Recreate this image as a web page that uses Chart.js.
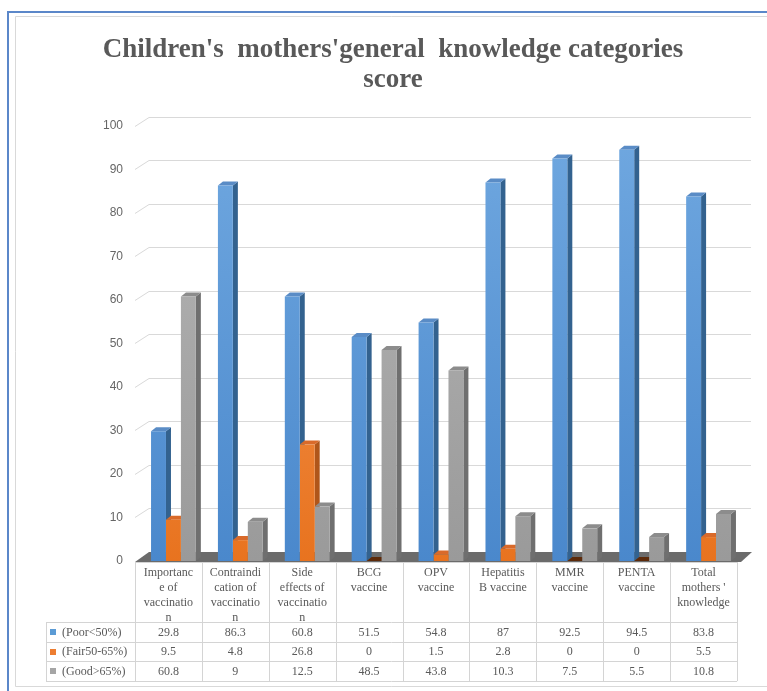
<!DOCTYPE html>
<html>
<head>
<meta charset="utf-8">
<script src="https://cdn.jsdelivr.net/npm/chart.js@4.4.0/dist/chart.umd.min.js"></script>
<style>
  html, body { margin: 0; padding: 0; background: #fff; }
  canvas { display: block; }
</style>
</head>
<body>
<canvas id="knowledge" width="767" height="691"></canvas>
<script>
// ********************* data ***********************
const categories = [
    ['Importanc', 'e of', 'vaccinatio', 'n'],
    ['Contraindi', 'cation of', 'vaccinatio', 'n'],
    ['Side', 'effects of', 'vaccinatio', 'n'],
    ['BCG', 'vaccine'],
    ['OPV', 'vaccine'],
    ['Hepatitis', 'B vaccine'],
    ['MMR', 'vaccine'],
    ['PENTA', 'vaccine'],
    ['Total', 'mothers \'', 'knowledge'],
];

const seriesNames = ['(Poor<50%)', '(Fair50-65%)', '(Good>65%)'];

const poor = [29.8, 86.3, 60.8, 51.5, 54.8, 87, 92.5, 94.5, 83.8];
const fair = [9.5, 4.8, 26.8, 0, 1.5, 2.8, 0, 0, 5.5];
const good = [60.8, 9, 12.5, 48.5, 43.8, 10.3, 7.5, 5.5, 10.8];

const yMin = 0, yMax = 100, yStep = 10;

// ********************* look ***********************
const palette = [
    { light: '#70a8e0', dark: '#4a88cc', side: '#33628f', top: '#5a8cc6', flat: '#2c4f73', key: '#5b9bd5' },
    { light: '#f59c5c', dark: '#e8731f', side: '#b0561a', top: '#d96a2a', flat: '#5c2a0a', key: '#ed7d31' },
    { light: '#b6b6b6', dark: '#9a9a9a', side: '#6f6f6f', top: '#8c8c8c', flat: '#555555', key: '#a5a5a5' },
];

const SHIFT = 5;        // bars sit a little right of their table column
const DX = 5, DY = 4;   // bar depth
const WX = 14, WY = 9;  // back wall depth
const serif = "'Liberation Serif', 'Times New Roman', serif";

function frontFill(ctx, i) {
    const area = ctx.chart.chartArea;
    if (!area) return palette[i].dark;
    const g = ctx.chart.ctx.createLinearGradient(0, area.top, 0, area.bottom);
    g.addColorStop(0, palette[i].light);
    g.addColorStop(1, palette[i].dark);
    return g;
}

// ********************* plugins ***********************
const frame = {
    id: 'frame',
    beforeDraw(chart) {
        const c = chart.ctx;
        c.save();
        c.fillStyle = '#fff';
        c.fillRect(0, 0, chart.width, chart.height);
        c.strokeStyle = '#5b87c9';
        c.lineWidth = 2;
        c.beginPath(); c.moveTo(8, 691); c.lineTo(8, 12); c.lineTo(767, 12); c.stroke();
        c.strokeStyle = '#d9d9d9';
        c.lineWidth = 1;
        c.beginPath(); c.moveTo(767, 16.5); c.lineTo(15.5, 16.5); c.lineTo(15.5, 686.5); c.lineTo(767, 686.5); c.stroke();
        c.restore();
    }
};

const wall = {
    id: 'wall',
    beforeDatasetsDraw(chart) {
        const c = chart.ctx, ys = chart.scales.y, xs = chart.scales.x;
        const left = xs.left - SHIFT, right = xs.right - SHIFT;
        c.save();
        c.strokeStyle = '#d9d9d9';
        c.lineWidth = 1;
        ys.ticks.forEach(t => {
            if (t.value === 0) return;
            const y = Math.round(ys.getPixelForValue(t.value)) + 0.5;
            c.beginPath();
            c.moveTo(left, y);
            c.lineTo(left + WX, y - WY);
            c.lineTo(right + WX, y - WY);
            c.stroke();
        });
        const y0 = ys.getPixelForValue(0);
        c.fillStyle = '#6b6b6b';
        c.beginPath();
        c.moveTo(left, y0 + 1);
        c.lineTo(right + 4, y0 + 1);
        c.lineTo(right + WX + 1, y0 - WY);
        c.lineTo(left + WX, y0 - WY);
        c.closePath();
        c.fill();
        c.restore();
    }
};

// side and top faces first, the library draws the fronts over them
const depth = {
    id: 'depth',
    beforeDatasetsDraw(chart) {
        const c = chart.ctx;
        c.save();
        chart.data.datasets.forEach((ds, i) => {
            const col = palette[i];
            chart.getDatasetMeta(i).data.forEach(bar => {
                const { x, y, base, width } = bar.getProps(['x', 'y', 'base', 'width'], true);
                const l = x - width / 2, r = x + width / 2;
                const tall = base - y > 0.5;
                if (tall) {
                    c.fillStyle = col.side;
                    c.beginPath();
                    c.moveTo(r, y); c.lineTo(r + DX, y - DY); c.lineTo(r + DX, base - DY); c.lineTo(r, base);
                    c.closePath(); c.fill();
                }
                c.fillStyle = tall ? col.top : col.flat;
                c.beginPath();
                c.moveTo(l, y); c.lineTo(l + DX, y - DY); c.lineTo(r + DX, y - DY); c.lineTo(r, y);
                c.closePath(); c.fill();
            });
        });
        c.restore();
    }
};

const table = {
    id: 'table',
    afterDraw(chart) {
        const c = chart.ctx, xs = chart.scales.x, ys = chart.scales.y;
        const n = categories.length;
        const w = (xs.right - xs.left) / n;
        const x0 = xs.left - SHIFT, x1 = xs.right - SHIFT;
        const top = Math.round(ys.getPixelForValue(0)) + 1;
        const headH = 60, rowH = 19.7, keyLeft = 46;
        const rows = [poor, fair, good];
        const bottom = top + headH + rowH * rows.length;
        const px = v => Math.round(v) + 0.5;

        c.save();
        c.strokeStyle = '#d4d4d4';
        c.lineWidth = 1;
        c.beginPath();
        c.moveTo(x0, px(top)); c.lineTo(x1, px(top));
        for (let r = 0; r <= rows.length; r++) {
            const y = px(top + headH + r * rowH);
            c.moveTo(keyLeft, y); c.lineTo(x1, y);
        }
        c.moveTo(px(keyLeft), top + headH); c.lineTo(px(keyLeft), bottom);
        for (let k = 0; k <= n; k++) {
            const x = px(x0 + k * w);
            c.moveTo(x, top); c.lineTo(x, bottom);
        }
        c.stroke();

        c.fillStyle = '#595959';
        c.font = '12px ' + serif;
        c.textAlign = 'center';
        c.textBaseline = 'middle';
        categories.forEach((lines, k) => {
            const cx = x0 + (k + 0.5) * w;
            lines.forEach((t, j) => c.fillText(t, cx, top + 11 + j * 15));
        });

        rows.forEach((vals, r) => {
            const cy = top + headH + (r + 0.5) * rowH;
            vals.forEach((v, k) => {
                c.fillStyle = '#595959';
                c.textAlign = 'center';
                c.fillText(String(v), x0 + (k + 0.5) * w, cy + 0.5);
            });
            c.fillStyle = palette[r].key;
            c.fillRect(50, Math.round(cy) - 3, 6, 6);
            c.fillStyle = '#595959';
            c.textAlign = 'left';
            c.fillText(seriesNames[r], 62, cy + 0.5);
        });
        c.restore();
    }
};

// ********************* chart ***********************
const knowledgeData = {
    labels: categories,
    datasets: [poor, fair, good].map((vals, i) => ({
        label: seriesNames[i],
        data: vals,
        backgroundColor: ctx => frontFill(ctx, i),
        borderWidth: 0,
        barPercentage: 1,
        categoryPercentage: 0.67,
        clip: false,
    }))
};

const knowledgeConfig = {
    type: 'bar',
    data: knowledgeData,
    options: {
        responsive: false,
        animation: false,
        devicePixelRatio: 1,
        layout: { padding: { left: 44, right: 25, top: 20, bottom: 130 } },
        plugins: {
            legend: { display: false },
            tooltip: { enabled: false },
            title: {
                display: true,
                text: ['Children\'s  mothers\'general  knowledge categories', 'score'],
                color: '#595959',
                font: { family: serif, size: 27, weight: 'bold', lineHeight: 1.11 },
                padding: { top: 15, bottom: 31 }
            }
        },
        scales: {
            x: { display: false, offset: true },
            y: {
                min: yMin,
                max: yMax,
                ticks: {
                    stepSize: yStep,
                    color: '#666666',
                    padding: 17,
                    font: { family: "'Liberation Sans', Arial, sans-serif", size: 12 }
                },
                grid: { display: false, drawTicks: false },
                border: { display: false },
                afterFit(scale) { scale.width = 96; }
            }
        }
    },
    plugins: [frame, wall, depth, table]
};

const knowledge = new Chart(
    document.getElementById('knowledge'),
    knowledgeConfig
);
</script>
</body>
</html>
